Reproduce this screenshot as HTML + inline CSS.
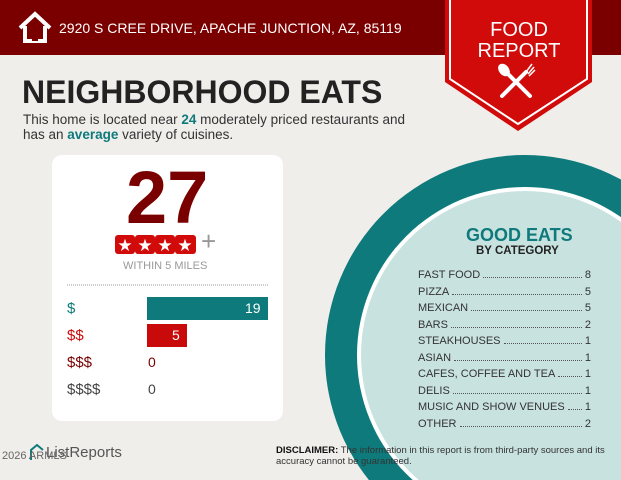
<!DOCTYPE html>
<html><head><meta charset="utf-8"><style>
html,body{margin:0;width:621px;height:480px;overflow:hidden}
body{background:#f0eeeb;font-family:"Liberation Sans",sans-serif;position:relative}
.a{position:absolute;white-space:nowrap}
.row{position:absolute;left:418px;width:173px;font-size:11px;color:#333;display:flex;align-items:baseline}
.row .d{flex:1;border-bottom:1px dotted #555;margin:0 3px}
</style></head><body>
<svg class="a" style="left:0;top:0" width="621" height="480">
<rect x="0" y="0" width="621" height="55" fill="#7a0000"/>
<circle cx="525" cy="355" r="200" fill="#0e7a7b"/>
<circle cx="525" cy="355" r="168" fill="#fff"/>
<circle cx="525" cy="355" r="164" fill="#c8e2df"/>
<polygon points="445,0 592,0 592,82 518,131 445,82" fill="#d10a0a"/>
<polyline points="450,0 450,79 518,124 587,79 587,0" fill="none" stroke="#fff" stroke-width="2"/>
<g stroke="#fff" stroke-width="4" stroke-linecap="round">
<line x1="502" y1="96" x2="526" y2="72"/><line x1="506" y1="72" x2="530" y2="96"/></g>
<ellipse cx="504" cy="70" rx="5" ry="7" fill="#fff" transform="rotate(-40 504 70)"/>
<path d="M526 72 l6 -8 M528 74 l6 -7 M529 76 l6 -6" stroke="#fff" stroke-width="1.5"/>
<rect x="52" y="155" width="231" height="266" rx="10" fill="#fff"/>
<line x1="67" y1="285" x2="268" y2="285" stroke="#999" stroke-dasharray="1,1"/>
<rect x="147" y="297" width="121" height="23" fill="#0e7a7b"/>
<rect x="147" y="324" width="40" height="23" fill="#c90a0a"/>
<g fill="#d10a0a"><rect x="115" y="235" width="20" height="19" rx="3"/><rect x="135" y="235" width="20" height="19" rx="3"/><rect x="155" y="235" width="20" height="19" rx="3"/><rect x="175" y="235" width="21" height="19" rx="3"/></g>
<g fill="#fff" font-size="17" text-anchor="middle"><text x="125" y="251">★</text><text x="145" y="251">★</text><text x="165" y="251">★</text><text x="185" y="251">★</text></g>
<path d="M20 28 L35 14 L50 28 M25 26 V41 H45 V26" fill="none" stroke="#fff" stroke-width="4"/>
<rect x="32" y="32" width="6" height="9" fill="#7a0000"/>
<path d="M31 460 V450 L37 445 L43 450" fill="none" stroke="#0e7a7b" stroke-width="2"/>
</svg>
<div class="a" style="left:59px;top:20px;color:#fff;font-size:14px">2920 S CREE DRIVE, APACHE JUNCTION, AZ, 85119</div>
<div class="a" style="left:476px;top:20px;color:#fff;font-size:20px;text-align:center;line-height:21px;width:86px">FOOD<br>REPORT</div>
<div class="a" style="left:22px;top:74px;color:#222;font-size:32px;font-weight:bold">NEIGHBORHOOD EATS</div>
<div class="a" style="left:23px;top:112px;color:#333;font-size:13.5px;line-height:15px">This home is located near <b style="color:#0e7a7b">24</b> moderately priced restaurants and<br>has an <b style="color:#0e7a7b">average</b> variety of cuisines.</div>
<div class="a" style="left:126px;top:158px;color:#7a0000;font-size:74px;font-weight:bold;line-height:80px">27</div>
<div class="a" style="left:201px;top:226px;color:#999;font-size:26px">+</div>
<div class="a" style="left:123px;top:260px;color:#999;font-size:11px">WITHIN 5 MILES</div>
<div class="a" style="left:67px;top:300px;color:#0e7a7b;font-size:15px">$</div>
<div class="a" style="left:67px;top:327px;color:#c90a0a;font-size:15px">$$</div>
<div class="a" style="left:67px;top:354px;color:#7a0000;font-size:15px">$$$</div>
<div class="a" style="left:67px;top:381px;color:#444;font-size:15px">$$$$</div>
<div class="a" style="left:245px;top:300px;color:#fff;font-size:14px">19</div>
<div class="a" style="left:172px;top:327px;color:#fff;font-size:14px">5</div>
<div class="a" style="left:148px;top:354px;color:#7a0000;font-size:14px">0</div>
<div class="a" style="left:148px;top:381px;color:#444;font-size:14px">0</div>
<div class="a" style="left:466px;top:225px;color:#0e7a7b;font-size:18px;font-weight:bold">GOOD EATS</div>
<div class="a" style="left:476px;top:245px;color:#222;font-size:11.5px;font-weight:bold">BY CATEGORY</div>
<div class="row" style="top:269px">FAST FOOD<span class="d"></span>8</div>
<div class="row" style="top:285.5px">PIZZA<span class="d"></span>5</div>
<div class="row" style="top:302px">MEXICAN<span class="d"></span>5</div>
<div class="row" style="top:318.5px">BARS<span class="d"></span>2</div>
<div class="row" style="top:335px">STEAKHOUSES<span class="d"></span>1</div>
<div class="row" style="top:351.5px">ASIAN<span class="d"></span>1</div>
<div class="row" style="top:368px">CAFES, COFFEE AND TEA<span class="d"></span>1</div>
<div class="row" style="top:384.5px">DELIS<span class="d"></span>1</div>
<div class="row" style="top:401px">MUSIC AND SHOW VENUES<span class="d"></span>1</div>
<div class="row" style="top:417.5px">OTHER<span class="d"></span>2</div>
<div class="a" style="left:276px;top:445px;color:#333;font-size:9.5px;line-height:11px"><b style="color:#111">DISCLAIMER:</b> The information in this report is from third-party sources and its<br>accuracy cannot be guaranteed.</div>
<div class="a" style="left:46px;top:444px;color:#555;font-size:15px">ListReports</div>
<div class="a" style="left:2px;top:450px;color:#666;font-size:11px">2026 ARMLS</div>
</body></html>
